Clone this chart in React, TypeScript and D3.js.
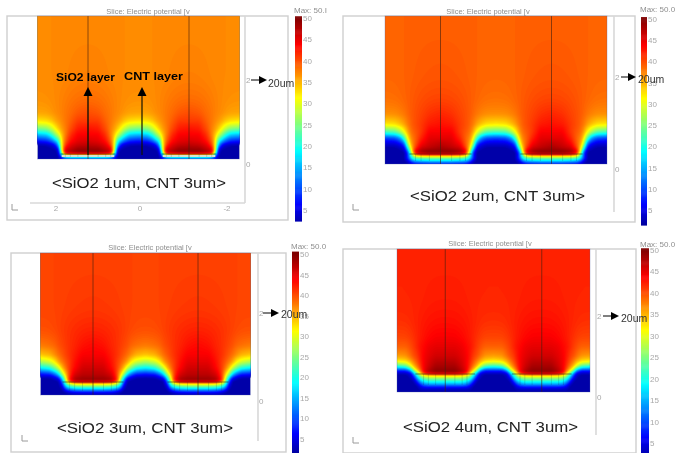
import React from "react";
import * as d3 from "d3";

const colStops = [0, 0.2, 0.35, 0.45, 0.52, 0.58, 0.65, 0.72, 0.82, 1];
const jetValues = [0, 6.25, 18.75, 31.25, 43.75, 50];
const jetColors = ["#000080", "#0000ff", "#00ffff", "#ffff00", "#ff0000", "#800000"];
const barTicks = [50, 45, 40, 35, 30, 25, 20, 15, 10, 5];
const captions = ["<SiO2 1um, CNT 3um>", "<SiO2 2um, CNT 3um>", "<SiO2 3um, CNT 3um>", "<SiO2 4um, CNT 3um>"];
const maxLabels = ["Max: 50.I", "Max: 50.0", "Max: 50.0", "Max: 50.0"];

const heightsA = [0, 2, 4, 6, 9, 14, 18, 24, 30, 38, 46, 60, 80, 143];
const fieldA = [
  [5, 5, 5, 5, 5, 2, 2, 2, 2, 2],
  [18, 18, 18, 16, 8, 2, 2, 2, 2, 2],
  [30, 30, 30, 30, 14, 2, 2, 2, 2, 2],
  [50, 50, 49, 47, 24, 3, 2, 2, 2, 2],
  [49, 49, 47, 46, 30, 4, 2, 2, 2, 2],
  [47, 46.5, 45, 41, 31, 15, 6, 3.5, 2.5, 2],
  [45.5, 45, 43, 39, 32, 20, 15, 11, 8, 7],
  [44, 44, 41.5, 37.5, 34, 29, 25, 20, 16, 15],
  [43, 42.5, 40, 37.5, 36, 34, 31, 28, 25, 24],
  [41, 41, 39, 38, 37, 36.5, 35.5, 34, 33, 32.5],
  [40, 39.5, 38.5, 38, 37.5, 37.2, 37, 36.5, 36, 36],
  [38.5, 38.3, 38, 37.7, 37.4, 37.2, 37, 36.8, 36.7, 36.6],
  [37.6, 37.5, 37.4, 37.2, 37.1, 37, 37, 37, 37, 36.9],
  [37, 37, 37, 37, 37, 37, 37, 37, 37, 37],
];

const heightsB = [0, 2, 5, 8, 10, 12, 16, 20, 26, 32, 40, 50, 65, 85, 148];
const fieldB = [
  [3, 3, 3, 3, 3, 2, 2, 2, 2, 2],
  [14, 14, 13, 12, 8, 3, 2, 2, 2, 2],
  [22, 22, 21, 20, 17, 8, 2, 2, 2, 2],
  [30, 30, 30, 28, 22, 10, 2, 2, 2, 2],
  [48, 48, 46, 42, 24, 8, 2, 2, 2, 2],
  [50, 50, 49, 46, 30, 10, 2, 2, 2, 2],
  [48, 47, 46, 41, 34, 20, 5, 3, 2, 2],
  [47, 46, 44, 39.5, 36, 28, 10, 6, 4, 4],
  [45, 45, 42, 39, 37.5, 33, 22, 14, 10, 9],
  [44, 44, 41, 39.5, 38.5, 36, 31, 27, 23, 22],
  [43, 42.5, 41, 40, 39.2, 38, 36, 34.5, 33, 32.5],
  [42, 41.5, 40.5, 40, 39.5, 39, 38, 37.5, 37, 37],
  [40.5, 40.3, 40, 39.7, 39.4, 39.2, 38.9, 38.6, 38.4, 38.3],
  [39.7, 39.6, 39.5, 39.3, 39.2, 39.1, 39, 38.9, 38.8, 38.8],
  [39, 39, 39, 39, 39, 39, 39, 39, 39, 39],
];

const heightsC = [0, 2, 4, 7, 10, 12, 14, 17, 21, 27, 33, 40, 50, 65, 85, 142];
const fieldC = [
  [2, 2, 2, 2, 2, 2, 2, 2, 2, 2],
  [4, 4, 4, 3, 2, 2, 2, 2, 2, 2],
  [10, 10, 9, 7, 4, 2, 2, 2, 2, 2],
  [19, 19, 18, 16, 12, 3, 2, 2, 2, 2],
  [28, 28, 27, 24, 19, 6, 2, 2, 2, 2],
  [35, 35, 34, 30, 23, 9, 2, 2, 2, 2],
  [50, 50, 49, 43, 26, 12, 2, 2, 2, 2],
  [48, 48, 47, 42, 30, 18, 7, 4, 2, 2],
  [47, 47, 45.5, 41, 34, 28, 18, 12, 8, 7],
  [46, 46, 43.5, 41, 38, 35, 29, 25, 20, 18],
  [45, 45, 43, 41, 39.5, 38, 36, 32, 29, 27],
  [44, 44, 42.5, 41.5, 40.5, 39.5, 38.5, 37, 35, 34],
  [43.5, 43, 42, 41.5, 41, 40.5, 40, 39, 38.5, 38],
  [42.2, 42, 41.7, 41.5, 41.2, 41, 40.7, 40.3, 40, 40],
  [41.2, 41.1, 41, 40.9, 40.8, 40.7, 40.6, 40.5, 40.4, 40.4],
  [40.5, 40.5, 40.5, 40.5, 40.5, 40.5, 40.5, 40.5, 40.5, 40.5],
];

const heightsD = [0, 3, 6, 9, 12, 15, 17, 19, 22, 26, 31, 36, 45, 55, 70, 90, 143];
const fieldD = [
  [2, 2, 2, 2, 2, 2, 2, 2, 2, 2],
  [3, 3, 3, 3, 3, 2, 2, 2, 2, 2],
  [9, 9, 9, 8, 5, 2, 2, 2, 2, 2],
  [17, 17, 17, 15, 11, 5, 2, 2, 2, 2],
  [22, 22, 22, 20, 17, 10, 3, 2, 2, 2],
  [29, 29, 29, 27, 23, 17, 7, 3, 2, 2],
  [33, 33, 32, 30, 26, 20, 10, 3, 2, 2],
  [50, 50, 48, 44, 32, 25, 15, 5, 3, 3],
  [49, 49, 47, 44, 39, 34, 28, 15, 9, 9],
  [48, 48, 46, 44, 41, 38, 35, 30, 23, 21],
  [47, 47, 45.5, 44, 42, 40, 38, 35.5, 33, 32],
  [46, 46, 45, 44, 42.5, 41, 40, 38.5, 36.5, 36],
  [45, 45, 44.5, 43.5, 43, 42, 41, 40, 39, 39],
  [44, 44, 43.5, 43, 42.6, 42, 41.5, 41, 40.5, 40.5],
  [43.2, 43.1, 42.9, 42.7, 42.5, 42.2, 42, 41.7, 41.5, 41.5],
  [42.5, 42.5, 42.4, 42.3, 42.2, 42, 42, 42, 42, 42],
  [42, 42, 42, 42, 42, 42, 42, 42, 42, 42],
];

const heightsAll = [heightsA, heightsB, heightsC, heightsD];
const fieldsAll = [fieldA, fieldB, fieldC, fieldD];
const plateHeights = [5, 10, 13, 18];
const dishFloors = [2, 3, 4, 7];

const plots = [
  { l: 37.5, hw: 50.5, t: 16, b: 159, plateHalf: 0.54 },
  { l: 385, hw: 55.5, t: 16, b: 164, plateHalf: 0.56 },
  { l: 40.5, hw: 52.5, t: 253, b: 395, plateHalf: 0.58 },
  { l: 397, hw: 48.25, t: 249, b: 392, plateHalf: 0.62 },
];
const frames = [
  { x0: 7, x1: 288, y0: 16, y1: 220, axisX: 245, axisBottom: 203, t2: 80, t0: 164, titleX: 148, titleY: 14 },
  { x0: 343, x1: 635, y0: 16, y1: 222, axisX: 614, axisBottom: 212, t2: 77, t0: 169, titleX: 488, titleY: 14 },
  { x0: 11, x1: 286, y0: 253, y1: 452, axisX: 258, axisBottom: 441, t2: 313, t0: 401, titleX: 150, titleY: 250 },
  { x0: 343, x1: 636, y0: 249, y1: 453, axisX: 596, axisBottom: 435, t2: 316, t0: 397, titleX: 490, titleY: 246 },
];
const bars = [
  { x: 295, w: 7, y50: 18, y5: 210, bottom: 221, maxY: 13 },
  { x: 641, w: 6, y50: 19, y5: 210, bottom: 225, maxY: 12 },
  { x: 292, w: 7, y50: 254, y5: 439, bottom: 453, maxY: 249 },
  { x: 641, w: 8, y50: 250, y5: 443, bottom: 453, maxY: 247 },
];
const notes = [
  { ax0: 251, ax1: 267, ay: 80, tx: 268, ty: 87 },
  { ax0: 621, ax1: 636, ay: 77, tx: 638, ty: 83 },
  { ax0: 263, ax1: 279, ay: 313, tx: 281, ty: 318 },
  { ax0: 603, ax1: 619, ay: 316, tx: 621, ty: 322 },
];
const caps = [
  { x0: 52, x1: 226, y: 188 },
  { x0: 410, x1: 585, y: 201 },
  { x0: 57, x1: 233, y: 433 },
  { x0: 403, x1: 578, y: 432 },
];
const glyphs = [
  { x: 12, y: 210 },
  { x: 353, y: 210 },
  { x: 22, y: 441 },
  { x: 353, y: 443 },
];
const bottomTicks = [
  { label: "2", x: 56 },
  { label: "0", x: 140 },
  { label: "-2", x: 227 },
];
const layerLabels = [
  { text: "SiO2 layer", x0: 56, x1: 115, y: 81 },
  { text: "CNT layer", x0: 124, x1: 183, y: 80 },
];
const layerArrows = [
  { x: 88, y0: 155, y1: 87 },
  { x: 142, y0: 155, y1: 87 },
];

const jet = d3.scaleLinear<string>().domain(jetValues).range(jetColors).clamp(true);
const thresholds = d3.range(2.5, 50.5, 0.25);
const grey = "#a8a8a8";
const sans = "'Liberation Sans', Arial, sans-serif";

function Field({ index }: { index: number }) {
  const p = plots[index];
  const field = fieldsAll[index];
  const heights = heightsAll[index];
  const W = Math.round(p.hw * 4);
  const H = p.b - p.t;
  const colIdx = d3.scaleLinear().domain(colStops).range(d3.range(colStops.length)).clamp(true);
  const rowIdx = d3.scaleLinear().domain(heights).range(d3.range(heights.length)).clamp(true);
  const sample = (q: number, h: number) => {
    const m = ((q % 2) + 2) % 2;
    const cf = colIdx(Math.abs(m - 1));
    const rf = rowIdx(h);
    const c0 = Math.min(Math.floor(cf), colStops.length - 2);
    const r0 = Math.min(Math.floor(rf), heights.length - 2);
    const a = d3.interpolateNumber(field[r0][c0], field[r0][c0 + 1])(cf - c0);
    const b = d3.interpolateNumber(field[r0 + 1][c0], field[r0 + 1][c0 + 1])(cf - c0);
    return d3.interpolateNumber(a, b)(rf - r0);
  };
  const raw = new Float64Array(W * H);
  for (let j = 0; j < H; j++)
    for (let i = 0; i < W; i++) raw[j * W + i] = sample((i + 0.5) / (W / 4), H - j - 0.5);
  const sharp = Float64Array.from(raw);
  d3.blur2({ data: sharp, width: W, height: H }, 1);
  const wide = Float64Array.from(raw);
  d3.blur2({ data: wide, width: W, height: H }, 5);
  const yh = d3.scaleLinear().domain([0, heights[heights.length - 1]]).range([p.b, p.t]);
  const mix = d3.scaleLinear().domain([plateHeights[index] + 30, plateHeights[index] + 60]).range([0, 1]).clamp(true);
  const values: number[] = new Array(W * H);
  for (let j = 0; j < H; j++) {
    const w = mix(H - j);
    for (let i = 0; i < W; i++) values[j * W + i] = sharp[j * W + i] * (1 - w) + wide[j * W + i] * w;
  }
  const bands = d3.contours().size([W, H]).thresholds(thresholds)(values);
  const path = d3.geoPath(
    d3.geoTransform({
      point(x: number, y: number) {
        (this as any).stream.point(p.l + x, p.t + y);
      },
    })
  );
  const centres = [1, 3].map((c) => p.l + c * p.hw);
  const plateY = yh(plateHeights[index]);
  const floorY = yh(dishFloors[index]);
  return (
    <g>
      <clipPath id={`clip${index}`}>
        <rect x={p.l} y={p.t} width={W} height={H} />
      </clipPath>
      <g clipPath={`url(#clip${index})`}>
        <rect x={p.l} y={p.t} width={W} height={H} fill={jet(2)} />
        {bands.map((b: any) => (
          <path key={b.value} d={path(b) || ""} fill={jet(b.value + 0.12)} />
        ))}
        {index === 0 &&
          centres.map((c) => (
            <line key={c} x1={c - p.hw * 0.52} x2={c + p.hw * 0.52} y1={yh(3)} y2={yh(3)} stroke="#d4e6d2" strokeWidth={2} />
          ))}
        {centres.map((c) => (
          <line key={`pl${c}`} x1={c - p.hw * p.plateHalf} x2={c + p.hw * p.plateHalf} y1={plateY} y2={plateY} stroke="#301010" strokeWidth={1} opacity={0.55} />
        ))}
        {centres.map((c) =>
          colStops.slice(1, 4).flatMap((s) => [-s, s]).map((s) => (
            <line key={`d${c}${s}`} x1={c + s * p.hw} x2={c + s * p.hw} y1={plateY} y2={floorY} stroke="#203040" strokeWidth={1} opacity={0.18} />
          ))
        )}
        {centres.map((c) => (
          <line key={`v${c}`} x1={c} x2={c} y1={p.t} y2={p.b} stroke="#402010" strokeWidth={1} opacity={0.6} />
        ))}
      </g>
      <rect x={p.l} y={p.t} width={W} height={H} fill="none" stroke="#5060a0" strokeWidth={0.6} opacity={0.5} />
    </g>
  );
}

function Chrome({ index }: { index: number }) {
  const f = frames[index];
  const g = glyphs[index];
  return (
    <g filter="url(#textSoft)" fontFamily={sans}>
      <rect x={f.x0} y={f.y0} width={f.x1 - f.x0} height={f.y1 - f.y0} fill="none" stroke="#cfcfcf" strokeWidth={1.4} />
      <line x1={f.axisX} x2={f.axisX} y1={f.y0} y2={f.axisBottom} stroke="#d8d8d8" strokeWidth={1.6} />
      <text x={f.axisX + 1} y={f.t2 + 3} fontSize={8} fill={grey}>2</text>
      <text x={f.axisX + 1} y={f.t0 + 3} fontSize={8} fill={grey}>0</text>
      <text x={f.titleX} y={f.titleY} fontSize={7.5} fill="#8f8f8f" textAnchor="middle">Slice: Electric potential [v</text>
      <path d={`M${g.x} ${g.y - 6}V${g.y}H${g.x + 6}`} fill="none" stroke="#9a9a9a" strokeWidth={1} />
      {index === 0 && (
        <g>
          <line x1={30} x2={245} y1={203} y2={203} stroke="#d8d8d8" strokeWidth={1.4} />
          {bottomTicks.map((t) => (
            <text key={t.label} x={t.x} y={211} fontSize={8} fill={grey} textAnchor="middle">{t.label}</text>
          ))}
        </g>
      )}
    </g>
  );
}

function ColorBar({ index }: { index: number }) {
  const b = bars[index];
  const y = d3.scaleLinear().domain([50, 5]).range([b.y50, b.y5]);
  const vBottom = y.invert(b.bottom);
  const steps = d3.range(vBottom, 50.4, 0.25);
  return (
    <g fontFamily={sans}>
      {steps.map((v) => (
        <rect key={v} x={b.x} y={y(v) - 1} width={b.w} height={1.6} fill={jet(v)} />
      ))}
      <g filter="url(#textSoft)">
        <text x={b.x - 1} y={b.maxY} fontSize={8} fill="#8f8f8f">{maxLabels[index]}</text>
        {barTicks.map((t) => (
          <text key={t} x={b.x + b.w + 1} y={y(t) + 3} fontSize={8} fill={grey}>{t}</text>
        ))}
      </g>
    </g>
  );
}

function Note({ index }: { index: number }) {
  const n = notes[index];
  const c = caps[index];
  return (
    <g fontFamily={sans} filter="url(#textSoft)">
      <line x1={n.ax0} x2={n.ax1 - 6} y1={n.ay} y2={n.ay} stroke="#000" strokeWidth={1} />
      <path d={`M${n.ax1} ${n.ay}l-8 -4v8z`} fill="#000" />
      <text x={n.tx} y={n.ty} fontSize={10.5} fill="#333">20um</text>
      <text x={c.x0} y={c.y} fontSize={14.5} fill="#222" textLength={c.x1 - c.x0} lengthAdjust="spacingAndGlyphs">{captions[index]}</text>
    </g>
  );
}

export default function App() {
  return (
    <svg width={676} height={453} viewBox="0 0 676 453" style={{ position: "absolute", left: 0, top: 0, background: "#fff" }}>
      <defs>
        <filter id="textSoft" x="-5%" y="-5%" width="110%" height="110%">
          <feGaussianBlur stdDeviation={0.3} />
        </filter>
      </defs>
      {plots.map((_, i) => (
        <g key={i}>
          <Chrome index={i} />
          <Field index={i} />
          <ColorBar index={i} />
          <Note index={i} />
        </g>
      ))}
      <g fontFamily={sans} filter="url(#textSoft)">
        {layerArrows.map((a) => (
          <g key={a.x}>
            <line x1={a.x} x2={a.x} y1={a.y0} y2={a.y1 + 6} stroke="#1a1000" strokeWidth={1.2} />
            <path d={`M${a.x} ${a.y1}l-4.5 9h9z`} fill="#000" />
          </g>
        ))}
        {layerLabels.map((l) => (
          <text key={l.text} x={l.x0} y={l.y} fontSize={11.5} fontWeight="bold" fill="#000" textLength={l.x1 - l.x0} lengthAdjust="spacingAndGlyphs">{l.text}</text>
        ))}
      </g>
    </svg>
  );
}
